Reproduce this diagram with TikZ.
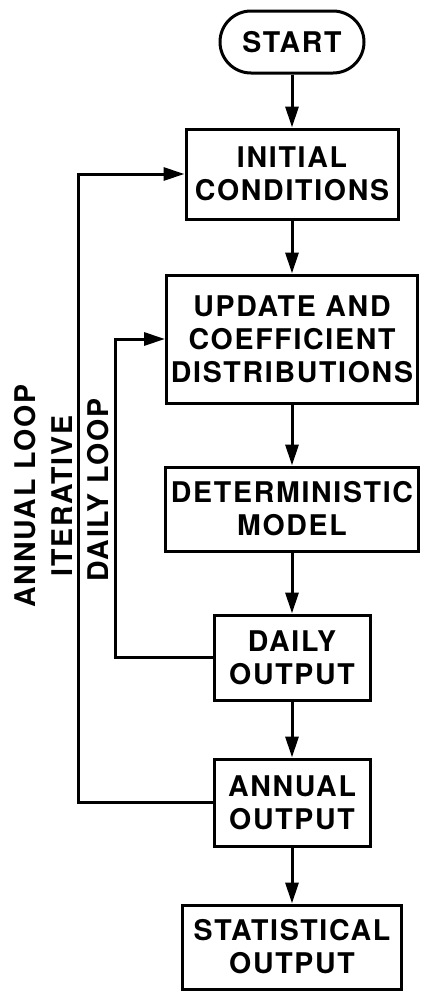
\documentclass[tikz,border=0pt]{standalone}
\usepackage{fontspec}
\setmainfont[LetterSpace=6]{TeX Gyre Heros}
\usetikzlibrary{arrows.meta, positioning}
\newcommand\boxfont{\fontsize{28.5}{33}\selectfont\bfseries}
\tikzset{
    box/.style={rectangle, draw, line width=3pt, align=center, font=\boxfont, inner sep=2pt},
    term/.style={box, rounded corners=31pt, minimum width=144pt, minimum height=62pt},
    arrow/.style={-{Triangle[length=21pt, width=13pt]}, line width=3pt},
    looplabel/.style={rotate=90, align=center, font=\fontsize{28.5}{37}\selectfont\bfseries}
}
\begin{document}
\begin{tikzpicture}[node distance=56pt]
    \useasboundingbox (0,0) rectangle (422pt,-996pt);
    % Main flow
    \node[term] (start) at (292pt,-42pt) {START};
    \node[box, below=53pt of start, minimum width=212pt, minimum height=90pt] (init) {INITIAL\\CONDITIONS};
    \node[box, below=53pt of init, minimum width=251pt, minimum height=128pt] (update) {UPDATE AND\\COEFFICIENT\\DISTRIBUTIONS};
    \node[box, below=61pt of update, minimum width=253pt, minimum height=84pt] (model) {DETERMINISTIC\\MODEL};
    \node[box, below=61pt of model, minimum width=156pt, minimum height=85pt] (daily) {DAILY\\OUTPUT};
    \node[box, below=of daily, minimum width=156pt, minimum height=87pt] (annual) {ANNUAL\\OUTPUT};
    \node[box, below=of annual, minimum width=219pt, minimum height=84pt] (stat) {STATISTICAL\\OUTPUT};

    \draw[arrow] (start) -- (init);
    \draw[arrow] (init) -- (update);
    \draw[arrow] (update) -- (model);
    \draw[arrow] (model) -- (daily);
    \draw[arrow] (daily) -- (annual);
    \draw[arrow] (annual) -- (stat);

    % Feedback loops
    \coordinate (annualx) at (78pt,0);
    \coordinate (dailyx) at (115pt,0);
    \draw[arrow] (annual.west) -- (annual.west -| annualx) |- (init.west);
    \draw[arrow] (daily.west) -- (daily.west -| dailyx) |- (update.west);

    \node[looplabel] (annuallbl) at (43pt,-496pt) {ANNUAL LOOP\\ITERATIVE};
    \node[looplabel] (dailylbl) at (98pt,-490pt) {DAILY LOOP};
\end{tikzpicture}
\end{document}
